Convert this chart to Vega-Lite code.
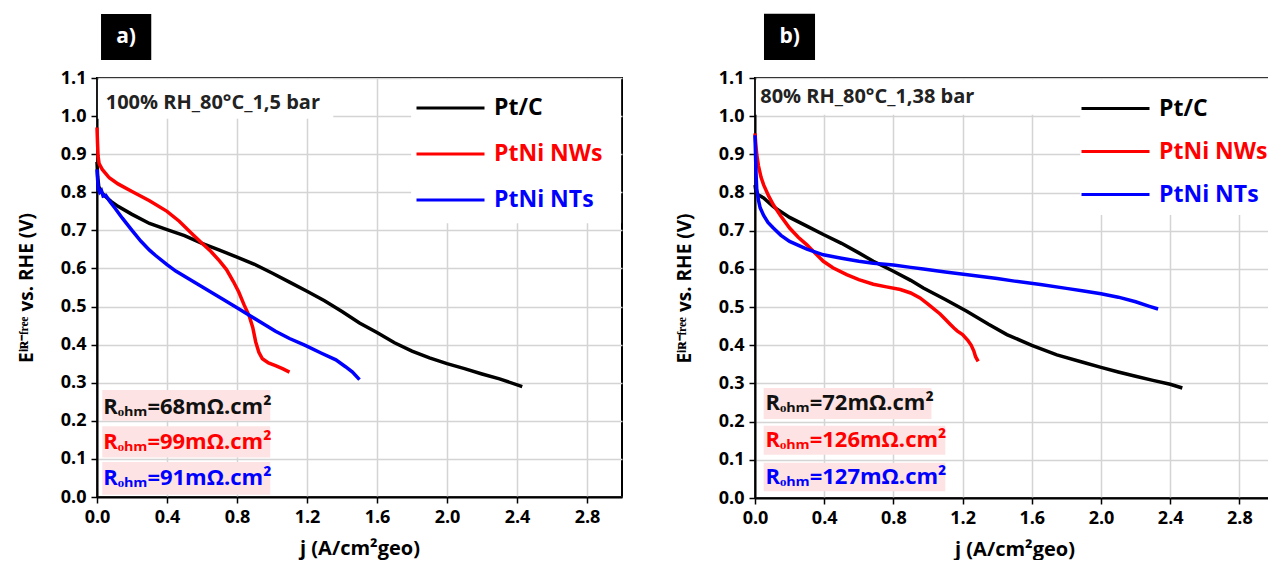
{
  "$schema": "https://vega.github.io/schema/vega-lite/v6.json",
  "background": "white",
  "padding": {"left": 16, "top": 12, "right": 0, "bottom": 0},
  "spacing": 51,
  "resolve": {"scale": {"color": "independent"}},
  "config": {
    "font": "Open Sans",
    "view": {"stroke": "black", "strokeWidth": 2},
    "axis": {
      "domainColor": "black", "domainWidth": 2,
      "tickColor": "black", "tickWidth": 1.5,
      "labelFont": "Open Sans", "labelFontWeight": "bold", "labelFontSize": 18, "labelColor": "black",
      "titleFont": "Open Sans", "titleFontWeight": "bold", "titleFontSize": 19, "titleColor": "black",
      "gridColor": "#d4d4d4", "gridWidth": 1.5, "labelFlush": false, "labelOverlap": false
    },
    "axisX": {"labelPadding": 5, "titlePadding": 12, "titleFontSize": 20},
    "axisY": {"labelPadding": 5, "titlePadding": 24},
    "legend": {
      "title": null, "orient": "none", "fillColor": null, "padding": 0,
      "symbolType": "stroke", "symbolSize": 4624, "symbolStrokeWidth": 3,
      "labelFont": "Open Sans", "labelFontSize": 23, "labelFontWeight": "bold",
      "labelOffset": 8, "labelLimit": 300, "rowPadding": 0
    }
  },
  "datasets": {
    "a": [
      {"s":"Pt/C","j":0.000,"E":0.880},{"s":"Pt/C","j":0.004,"E":0.840},{"s":"Pt/C","j":0.010,"E":0.815},{"s":"Pt/C","j":0.025,"E":0.800},{"s":"Pt/C","j":0.05,"E":0.788},{"s":"Pt/C","j":0.08,"E":0.776},{"s":"Pt/C","j":0.12,"E":0.763},{"s":"Pt/C","j":0.2,"E":0.742},{"s":"Pt/C","j":0.3,"E":0.718},{"s":"Pt/C","j":0.4,"E":0.702},{"s":"Pt/C","j":0.5,"E":0.686},{"s":"Pt/C","j":0.6,"E":0.666},{"s":"Pt/C","j":0.7,"E":0.648},{"s":"Pt/C","j":0.8,"E":0.630},{"s":"Pt/C","j":0.9,"E":0.611},{"s":"Pt/C","j":1.0,"E":0.588},{"s":"Pt/C","j":1.1,"E":0.564},{"s":"Pt/C","j":1.2,"E":0.540},{"s":"Pt/C","j":1.3,"E":0.515},{"s":"Pt/C","j":1.4,"E":0.487},{"s":"Pt/C","j":1.5,"E":0.457},{"s":"Pt/C","j":1.6,"E":0.432},{"s":"Pt/C","j":1.7,"E":0.405},{"s":"Pt/C","j":1.8,"E":0.383},{"s":"Pt/C","j":1.9,"E":0.365},{"s":"Pt/C","j":2.0,"E":0.350},{"s":"Pt/C","j":2.1,"E":0.337},{"s":"Pt/C","j":2.2,"E":0.323},{"s":"Pt/C","j":2.3,"E":0.310},{"s":"Pt/C","j":2.43,"E":0.290},
      {"s":"PtNi NWs","j":0.000,"E":0.970},{"s":"PtNi NWs","j":0.003,"E":0.930},{"s":"PtNi NWs","j":0.006,"E":0.895},{"s":"PtNi NWs","j":0.012,"E":0.875},{"s":"PtNi NWs","j":0.03,"E":0.860},{"s":"PtNi NWs","j":0.07,"E":0.838},{"s":"PtNi NWs","j":0.12,"E":0.822},{"s":"PtNi NWs","j":0.2,"E":0.802},{"s":"PtNi NWs","j":0.3,"E":0.778},{"s":"PtNi NWs","j":0.4,"E":0.750},{"s":"PtNi NWs","j":0.47,"E":0.724},{"s":"PtNi NWs","j":0.55,"E":0.688},{"s":"PtNi NWs","j":0.6,"E":0.666},{"s":"PtNi NWs","j":0.65,"E":0.645},{"s":"PtNi NWs","j":0.7,"E":0.620},{"s":"PtNi NWs","j":0.74,"E":0.597},{"s":"PtNi NWs","j":0.78,"E":0.565},{"s":"PtNi NWs","j":0.81,"E":0.538},{"s":"PtNi NWs","j":0.84,"E":0.505},{"s":"PtNi NWs","j":0.87,"E":0.475},{"s":"PtNi NWs","j":0.89,"E":0.445},{"s":"PtNi NWs","j":0.907,"E":0.407},{"s":"PtNi NWs","j":0.925,"E":0.380},{"s":"PtNi NWs","j":0.945,"E":0.363},{"s":"PtNi NWs","j":0.98,"E":0.352},{"s":"PtNi NWs","j":1.02,"E":0.345},{"s":"PtNi NWs","j":1.06,"E":0.337},{"s":"PtNi NWs","j":1.10,"E":0.328},
      {"s":"PtNi NTs","j":0.000,"E":0.860},{"s":"PtNi NTs","j":0.004,"E":0.830},{"s":"PtNi NTs","j":0.008,"E":0.808},{"s":"PtNi NTs","j":0.015,"E":0.800},{"s":"PtNi NTs","j":0.025,"E":0.805},{"s":"PtNi NTs","j":0.035,"E":0.790},{"s":"PtNi NTs","j":0.05,"E":0.792},{"s":"PtNi NTs","j":0.07,"E":0.778},{"s":"PtNi NTs","j":0.1,"E":0.760},{"s":"PtNi NTs","j":0.145,"E":0.732},{"s":"PtNi NTs","j":0.2,"E":0.700},{"s":"PtNi NTs","j":0.25,"E":0.672},{"s":"PtNi NTs","j":0.3,"E":0.648},{"s":"PtNi NTs","j":0.335,"E":0.634},{"s":"PtNi NTs","j":0.4,"E":0.610},{"s":"PtNi NTs","j":0.45,"E":0.593},{"s":"PtNi NTs","j":0.526,"E":0.572},{"s":"PtNi NTs","j":0.6,"E":0.552},{"s":"PtNi NTs","j":0.717,"E":0.520},{"s":"PtNi NTs","j":0.8,"E":0.497},{"s":"PtNi NTs","j":0.87,"E":0.477},{"s":"PtNi NTs","j":0.95,"E":0.455},{"s":"PtNi NTs","j":1.02,"E":0.435},{"s":"PtNi NTs","j":1.1,"E":0.416},{"s":"PtNi NTs","j":1.19,"E":0.398},{"s":"PtNi NTs","j":1.28,"E":0.378},{"s":"PtNi NTs","j":1.365,"E":0.360},{"s":"PtNi NTs","j":1.42,"E":0.342},{"s":"PtNi NTs","j":1.46,"E":0.328},{"s":"PtNi NTs","j":1.50,"E":0.308}
    ],
    "b": [
      {"s":"Pt/C","j":0.000,"E":0.820},{"s":"Pt/C","j":0.005,"E":0.805},{"s":"Pt/C","j":0.015,"E":0.795},{"s":"Pt/C","j":0.05,"E":0.786},{"s":"Pt/C","j":0.106,"E":0.763},{"s":"Pt/C","j":0.2,"E":0.735},{"s":"Pt/C","j":0.3,"E":0.712},{"s":"Pt/C","j":0.395,"E":0.690},{"s":"Pt/C","j":0.5,"E":0.667},{"s":"Pt/C","j":0.6,"E":0.642},{"s":"Pt/C","j":0.684,"E":0.620},{"s":"Pt/C","j":0.8,"E":0.594},{"s":"Pt/C","j":0.9,"E":0.570},{"s":"Pt/C","j":0.973,"E":0.550},{"s":"Pt/C","j":1.1,"E":0.520},{"s":"Pt/C","j":1.224,"E":0.489},{"s":"Pt/C","j":1.35,"E":0.455},{"s":"Pt/C","j":1.456,"E":0.428},{"s":"Pt/C","j":1.6,"E":0.400},{"s":"Pt/C","j":1.745,"E":0.375},{"s":"Pt/C","j":1.9,"E":0.355},{"s":"Pt/C","j":2.0,"E":0.342},{"s":"Pt/C","j":2.1,"E":0.330},{"s":"Pt/C","j":2.2,"E":0.319},{"s":"Pt/C","j":2.3,"E":0.308},{"s":"Pt/C","j":2.4,"E":0.298},{"s":"Pt/C","j":2.47,"E":0.288},
      {"s":"PtNi NWs","j":0.000,"E":0.955},{"s":"PtNi NWs","j":0.004,"E":0.930},{"s":"PtNi NWs","j":0.010,"E":0.900},{"s":"PtNi NWs","j":0.02,"E":0.870},{"s":"PtNi NWs","j":0.035,"E":0.840},{"s":"PtNi NWs","j":0.05,"E":0.820},{"s":"PtNi NWs","j":0.08,"E":0.790},{"s":"PtNi NWs","j":0.106,"E":0.768},{"s":"PtNi NWs","j":0.15,"E":0.738},{"s":"PtNi NWs","j":0.2,"E":0.707},{"s":"PtNi NWs","j":0.25,"E":0.683},{"s":"PtNi NWs","j":0.3,"E":0.663},{"s":"PtNi NWs","j":0.35,"E":0.640},{"s":"PtNi NWs","j":0.395,"E":0.620},{"s":"PtNi NWs","j":0.45,"E":0.603},{"s":"PtNi NWs","j":0.53,"E":0.585},{"s":"PtNi NWs","j":0.6,"E":0.572},{"s":"PtNi NWs","j":0.684,"E":0.560},{"s":"PtNi NWs","j":0.76,"E":0.553},{"s":"PtNi NWs","j":0.84,"E":0.546},{"s":"PtNi NWs","j":0.9,"E":0.537},{"s":"PtNi NWs","j":0.954,"E":0.524},{"s":"PtNi NWs","j":1.0,"E":0.508},{"s":"PtNi NWs","j":1.07,"E":0.482},{"s":"PtNi NWs","j":1.1,"E":0.468},{"s":"PtNi NWs","j":1.128,"E":0.455},{"s":"PtNi NWs","j":1.15,"E":0.445},{"s":"PtNi NWs","j":1.17,"E":0.437},{"s":"PtNi NWs","j":1.2,"E":0.428},{"s":"PtNi NWs","j":1.23,"E":0.413},{"s":"PtNi NWs","j":1.25,"E":0.400},{"s":"PtNi NWs","j":1.265,"E":0.385},{"s":"PtNi NWs","j":1.275,"E":0.370},{"s":"PtNi NWs","j":1.29,"E":0.358},
      {"s":"PtNi NTs","j":0.000,"E":0.950},{"s":"PtNi NTs","j":0.003,"E":0.900},{"s":"PtNi NTs","j":0.006,"E":0.850},{"s":"PtNi NTs","j":0.01,"E":0.810},{"s":"PtNi NTs","j":0.02,"E":0.780},{"s":"PtNi NTs","j":0.03,"E":0.760},{"s":"PtNi NTs","j":0.05,"E":0.740},{"s":"PtNi NTs","j":0.075,"E":0.722},{"s":"PtNi NTs","j":0.106,"E":0.707},{"s":"PtNi NTs","j":0.15,"E":0.688},{"s":"PtNi NTs","j":0.2,"E":0.672},{"s":"PtNi NTs","j":0.3,"E":0.652},{"s":"PtNi NTs","j":0.395,"E":0.637},{"s":"PtNi NTs","j":0.5,"E":0.628},{"s":"PtNi NTs","j":0.6,"E":0.620},{"s":"PtNi NTs","j":0.684,"E":0.615},{"s":"PtNi NTs","j":0.8,"E":0.610},{"s":"PtNi NTs","j":0.9,"E":0.604},{"s":"PtNi NTs","j":0.973,"E":0.600},{"s":"PtNi NTs","j":1.1,"E":0.592},{"s":"PtNi NTs","j":1.263,"E":0.583},{"s":"PtNi NTs","j":1.4,"E":0.575},{"s":"PtNi NTs","j":1.5,"E":0.568},{"s":"PtNi NTs","j":1.65,"E":0.559},{"s":"PtNi NTs","j":1.8,"E":0.549},{"s":"PtNi NTs","j":1.9,"E":0.542},{"s":"PtNi NTs","j":2.0,"E":0.535},{"s":"PtNi NTs","j":2.1,"E":0.526},{"s":"PtNi NTs","j":2.2,"E":0.514},{"s":"PtNi NTs","j":2.28,"E":0.502},{"s":"PtNi NTs","j":2.33,"E":0.495}
    ]
  },
  "hconcat": [
    {
      "width": 525, "height": 419,
      "layer": [
        {
          "data": {"name": "a"},
          "mark": {"type": "line", "strokeWidth": 3.5},
          "encoding": {
            "x": {"field": "j", "type": "quantitative", "scale": {"domain": [0, 3.0], "nice": false},
              "axis": {"title": "j (A/cm²geo)", "grid": true, "tickCount": 15,
                "values": [0,0.2,0.4,0.6,0.8,1.0,1.2,1.4,1.6,1.8,2.0,2.2,2.4,2.6,2.8,3.0],
                "labelExpr": "abs(datum.value*2.5 - round(datum.value*2.5)) < 0.01 ? format(datum.value,'.1f') : ''",
                "tickSize": {"condition": {"test": "abs(datum.value*2.5 - round(datum.value*2.5)) < 0.01", "value": 6}, "value": 3},
                "gridOpacity": {"condition": {"test": "abs(datum.value*2.5 - round(datum.value*2.5)) < 0.01", "value": 1}, "value": 0}}},
            "y": {"field": "E", "type": "quantitative", "scale": {"domain": [0, 1.1], "nice": false, "zero": false},
              "axis": {"title": "Eⁱᴿ⁻ᶠʳᵉᵉ vs. RHE (V)", "grid": true, "tickCount": 22,
                "values": [0,0.05,0.1,0.15,0.2,0.25,0.3,0.35,0.4,0.45,0.5,0.55,0.6,0.65,0.7,0.75,0.8,0.85,0.9,0.95,1.0,1.05,1.1],
                "labelExpr": "abs(datum.value*10 - round(datum.value*10)) < 0.01 ? format(datum.value,'.1f') : ''",
                "tickSize": {"condition": {"test": "abs(datum.value*10 - round(datum.value*10)) < 0.01", "value": 6}, "value": 3},
                "gridOpacity": {"condition": {"test": "abs(datum.value*10 - round(datum.value*10)) < 0.01", "value": 1}, "value": 0}}},
            "color": {"field": "s", "type": "nominal",
              "scale": {"domain": ["Pt/C", "PtNi NWs", "PtNi NTs"], "range": ["#000000", "#ff0000", "#0000ff"]},
              "legend": {"legendX": 318, "legendY": 7, "clipHeight": 46,
                "encode": {"labels": {"update": {"fill": {"signal": "datum.value === 'Pt/C' ? '#000000' : datum.value === 'PtNi NWs' ? '#ff0000' : '#0000ff'"}}}}}}
          }
        },
        {"data": {"values": [{}]}, "mark": {"type": "rect", "color": "white"},
          "encoding": {"x": {"datum": 0.005}, "x2": {"datum": 1.35}, "y": {"datum": 0.993}, "y2": {"datum": 1.097}}},
        {"data": {"values": [{}]}, "mark": {"type": "rect", "color": "white"},
          "encoding": {"x": {"datum": 1.795}, "x2": {"datum": 2.995}, "y": {"datum": 0.719}, "y2": {"datum": 1.097}}},
        {"data": {"values": [{}]}, "mark": {"type": "rect", "color": "#fde3e3"},
          "encoding": {"x": {"datum": 0.03}, "x2": {"datum": 0.99}, "y": {"datum": 0.2}, "y2": {"datum": 0.281}}},
        {"data": {"values": [{}]}, "mark": {"type": "rect", "color": "#fde3e3"},
          "encoding": {"x": {"datum": 0.03}, "x2": {"datum": 0.99}, "y": {"datum": 0.104}, "y2": {"datum": 0.186}}},
        {"data": {"values": [{}]}, "mark": {"type": "rect", "color": "#fde3e3"},
          "encoding": {"x": {"datum": 0.03}, "x2": {"datum": 0.99}, "y": {"datum": 0.006}, "y2": {"datum": 0.092}}},
        {"data": {"values": [{}]}, "mark": {"type": "text", "align": "left", "baseline": "middle", "fontSize": 20, "fontWeight": "bold", "color": "#222222", "text": "100% RH_80°C_1,5 bar"},
          "encoding": {"x": {"datum": 0.05}, "y": {"datum": 1.034}}},
        {"data": {"values": [{}]}, "mark": {"type": "text", "align": "left", "baseline": "middle", "fontSize": 22, "fontWeight": "bold", "color": "#111111", "text": "Rₒₕₘ=68mΩ.cm²"},
          "encoding": {"x": {"datum": 0.035}, "y": {"datum": 0.236}}},
        {"data": {"values": [{}]}, "mark": {"type": "text", "align": "left", "baseline": "middle", "fontSize": 22, "fontWeight": "bold", "color": "#ff0000", "text": "Rₒₕₘ=99mΩ.cm²"},
          "encoding": {"x": {"datum": 0.035}, "y": {"datum": 0.144}}},
        {"data": {"values": [{}]}, "mark": {"type": "text", "align": "left", "baseline": "middle", "fontSize": 22, "fontWeight": "bold", "color": "#0000ff", "text": "Rₒₕₘ=91mΩ.cm²"},
          "encoding": {"x": {"datum": 0.035}, "y": {"datum": 0.05}}},
        {"data": {"values": [{}]}, "mark": {"type": "rect", "color": "black"},
          "encoding": {"x": {"datum": 0.023}, "x2": {"datum": 0.31}, "y": {"datum": 1.147}, "y2": {"datum": 1.268}}},
        {"data": {"values": [{}]}, "mark": {"type": "text", "align": "center", "baseline": "middle", "fontSize": 21, "fontWeight": "bold", "color": "white", "text": "a)"},
          "encoding": {"x": {"datum": 0.166}, "y": {"datum": 1.207}}}
      ]
    },
    {
      "width": 519, "height": 420,
      "layer": [
        {
          "data": {"name": "b"},
          "mark": {"type": "line", "strokeWidth": 3.5},
          "encoding": {
            "x": {"field": "j", "type": "quantitative", "scale": {"domain": [0, 3.0], "nice": false},
              "axis": {"title": "j (A/cm²geo)", "grid": true, "tickCount": 15,
                "values": [0,0.2,0.4,0.6,0.8,1.0,1.2,1.4,1.6,1.8,2.0,2.2,2.4,2.6,2.8,3.0],
                "labelExpr": "abs(datum.value*2.5 - round(datum.value*2.5)) < 0.01 ? format(datum.value,'.1f') : ''",
                "tickSize": {"condition": {"test": "abs(datum.value*2.5 - round(datum.value*2.5)) < 0.01", "value": 6}, "value": 3},
                "gridOpacity": {"condition": {"test": "abs(datum.value*2.5 - round(datum.value*2.5)) < 0.01", "value": 1}, "value": 0}}},
            "y": {"field": "E", "type": "quantitative", "scale": {"domain": [0, 1.1], "nice": false, "zero": false},
              "axis": {"title": "Eⁱᴿ⁻ᶠʳᵉᵉ vs. RHE (V)", "grid": true, "tickCount": 22,
                "values": [0,0.05,0.1,0.15,0.2,0.25,0.3,0.35,0.4,0.45,0.5,0.55,0.6,0.65,0.7,0.75,0.8,0.85,0.9,0.95,1.0,1.05,1.1],
                "labelExpr": "abs(datum.value*10 - round(datum.value*10)) < 0.01 ? format(datum.value,'.1f') : ''",
                "tickSize": {"condition": {"test": "abs(datum.value*10 - round(datum.value*10)) < 0.01", "value": 6}, "value": 3},
                "gridOpacity": {"condition": {"test": "abs(datum.value*10 - round(datum.value*10)) < 0.01", "value": 1}, "value": 0}}},
            "color": {"field": "s", "type": "nominal",
              "scale": {"domain": ["Pt/C", "PtNi NWs", "PtNi NTs"], "range": ["#000000", "#ff0000", "#0000ff"]},
              "legend": {"legendX": 325, "legendY": 9, "clipHeight": 43,
                "encode": {"labels": {"update": {"fill": {"signal": "datum.value === 'Pt/C' ? '#000000' : datum.value === 'PtNi NWs' ? '#ff0000' : '#0000ff'"}}}}}}
          }
        },
        {"data": {"values": [{}]}, "mark": {"type": "rect", "color": "white"},
          "encoding": {"x": {"datum": 0.005}, "x2": {"datum": 1.9}, "y": {"datum": 1.004}, "y2": {"datum": 1.097}}},
        {"data": {"values": [{}]}, "mark": {"type": "rect", "color": "white"},
          "encoding": {"x": {"datum": 1.88}, "x2": {"datum": 2.995}, "y": {"datum": 0.741}, "y2": {"datum": 1.097}}},
        {"data": {"values": [{}]}, "mark": {"type": "rect", "color": "#fde3e3"},
          "encoding": {"x": {"datum": 0.05}, "x2": {"datum": 1.02}, "y": {"datum": 0.207}, "y2": {"datum": 0.288}}},
        {"data": {"values": [{}]}, "mark": {"type": "rect", "color": "#fde3e3"},
          "encoding": {"x": {"datum": 0.05}, "x2": {"datum": 1.10}, "y": {"datum": 0.113}, "y2": {"datum": 0.189}}},
        {"data": {"values": [{}]}, "mark": {"type": "rect", "color": "#fde3e3"},
          "encoding": {"x": {"datum": 0.05}, "x2": {"datum": 1.10}, "y": {"datum": 0.018}, "y2": {"datum": 0.092}}},
        {"data": {"values": [{}]}, "mark": {"type": "text", "align": "left", "baseline": "middle", "fontSize": 20, "fontWeight": "bold", "color": "#222222", "text": "80% RH_80°C_1,38 bar"},
          "encoding": {"x": {"datum": 0.03}, "y": {"datum": 1.05}}},
        {"data": {"values": [{}]}, "mark": {"type": "text", "align": "left", "baseline": "middle", "fontSize": 22, "fontWeight": "bold", "color": "#111111", "text": "Rₒₕₘ=72mΩ.cm²"},
          "encoding": {"x": {"datum": 0.06}, "y": {"datum": 0.249}}},
        {"data": {"values": [{}]}, "mark": {"type": "text", "align": "left", "baseline": "middle", "fontSize": 22, "fontWeight": "bold", "color": "#ff0000", "text": "Rₒₕₘ=126mΩ.cm²"},
          "encoding": {"x": {"datum": 0.06}, "y": {"datum": 0.152}}},
        {"data": {"values": [{}]}, "mark": {"type": "text", "align": "left", "baseline": "middle", "fontSize": 22, "fontWeight": "bold", "color": "#0000ff", "text": "Rₒₕₘ=127mΩ.cm²"},
          "encoding": {"x": {"datum": 0.06}, "y": {"datum": 0.055}}},
        {"data": {"values": [{}]}, "mark": {"type": "rect", "color": "black"},
          "encoding": {"x": {"datum": 0.052}, "x2": {"datum": 0.347}, "y": {"datum": 1.147}, "y2": {"datum": 1.268}}},
        {"data": {"values": [{}]}, "mark": {"type": "text", "align": "center", "baseline": "middle", "fontSize": 21, "fontWeight": "bold", "color": "white", "text": "b)"},
          "encoding": {"x": {"datum": 0.2}, "y": {"datum": 1.207}}}
      ]
    }
  ]
}
